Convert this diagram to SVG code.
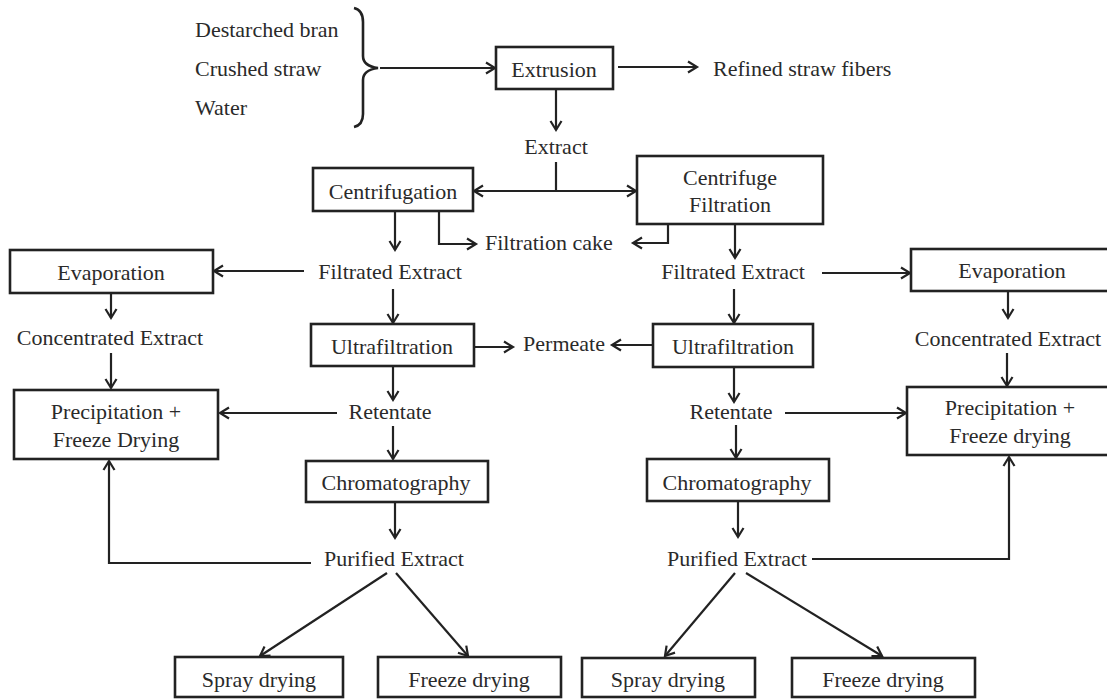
<svg xmlns="http://www.w3.org/2000/svg" width="1107" height="699" viewBox="0 0 1107 699">
<defs>
<marker id="ah" markerUnits="userSpaceOnUse" markerWidth="14" markerHeight="14" refX="11" refY="7" orient="auto">
<path d="M2,1.5 L11,7 L2,12.5" fill="none" stroke="#222" stroke-width="2.2" stroke-linejoin="miter"/>
</marker>
<style>
text{font-family:'Liberation Serif',serif;font-size:22px;fill:#2a2a2a}
.m{text-anchor:middle}
.box{fill:#fff;stroke:#222;stroke-width:2.6}
.c{fill:none;stroke:#222;stroke-width:2.2}
.a{marker-end:url(#ah)}
</style>
</defs>
<rect width="1107" height="699" fill="#fff"/>

<g id="connectors">
<path class="c a" d="M380,68 H495"/>
<path class="c a" d="M618,67 H697"/>
<path class="c a" d="M556,89 V130"/>
<path class="c" d="M556,162 V191"/>
<path class="c a" d="M556,191 H474"/>
<path class="c a" d="M556,191 H636"/>
<path class="c a" d="M395,211 V250"/>
<path class="c a" d="M439,211 V244 H476"/>
<path class="c a" d="M668,224 V243 H633"/>
<path class="c a" d="M735,224 V258"/>
<path class="c a" d="M304,271 H214"/>
<path class="c a" d="M822,273 H910"/>
<path class="c a" d="M393,289 V323"/>
<path class="c a" d="M734,289 V323"/>
<path class="c a" d="M111,293 V318"/>
<path class="c a" d="M1008,291 V318"/>
<path class="c a" d="M111,353 V388"/>
<path class="c a" d="M1007,353 V386"/>
<path class="c a" d="M474,347 H513"/>
<path class="c a" d="M653,345 H612"/>
<path class="c a" d="M393,366 V400"/>
<path class="c a" d="M734,367 V402"/>
<path class="c a" d="M337,413 H220"/>
<path class="c a" d="M785,413 H906"/>
<path class="c a" d="M393,426 V459"/>
<path class="c a" d="M736,425 V458"/>
<path class="c a" d="M395,502 V538"/>
<path class="c a" d="M738,501 V537"/>
<path class="c a" d="M311,563 H109 V461"/>
<path class="c a" d="M812,559 H1009 V457"/>
<path class="c a" d="M387,573 L260,656"/>
<path class="c a" d="M396,573 L468,656"/>
<path class="c a" d="M735,573 L665,656"/>
<path class="c a" d="M746,573 L882,656"/>
</g>

<g id="inputs">
<text x="195" y="37" font-family="Liberation Serif">Destarched bran</text>
<text x="195" y="76" font-family="Liberation Serif">Crushed straw</text>
<text x="195" y="115" font-family="Liberation Serif">Water</text>
<path d="M354,8 Q363,10 363,22 V56 Q363,66 378,68 Q363,70 363,80 V114 Q363,125 354,127" fill="none" stroke="#222" stroke-width="2.6"/>
</g>

<g id="extrusion"><rect class="box" x="496" y="47" width="117" height="42"/><text class="m" font-family="Liberation Serif" x="554" y="77">Extrusion</text></g>
<g id="refined"><text font-family="Liberation Serif" x="713" y="76">Refined straw fibers</text></g>
<g id="extract"><text class="m" font-family="Liberation Serif" x="556" y="154">Extract</text></g>
<g id="centrifugation"><rect class="box" x="313" y="168" width="160" height="43"/><text class="m" font-family="Liberation Serif" x="393" y="199">Centrifugation</text></g>
<g id="centrifuge-filtration"><rect class="box" x="637" y="156" width="186" height="68"/><text class="m" font-family="Liberation Serif" x="730" y="185">Centrifuge</text><text class="m" font-family="Liberation Serif" x="730" y="212">Filtration</text></g>
<g id="filtration-cake"><text font-family="Liberation Serif" x="485" y="250">Filtration cake</text></g>
<g id="filtrated-left"><text class="m" font-family="Liberation Serif" x="390" y="279">Filtrated Extract</text></g>
<g id="filtrated-right"><text class="m" font-family="Liberation Serif" x="733" y="279">Filtrated Extract</text></g>
<g id="evaporation-left"><rect class="box" x="10" y="250" width="203" height="43"/><text class="m" font-family="Liberation Serif" x="111" y="280">Evaporation</text></g>
<g id="evaporation-right"><rect class="box" x="911" y="249" width="204" height="42"/><text class="m" font-family="Liberation Serif" x="1012" y="278">Evaporation</text></g>
<g id="concentrated-left"><text class="m" font-family="Liberation Serif" x="110" y="345">Concentrated Extract</text></g>
<g id="concentrated-right"><text class="m" font-family="Liberation Serif" x="1008" y="346">Concentrated Extract</text></g>
<g id="ultrafiltration-left"><rect class="box" x="311" y="324" width="163" height="42"/><text class="m" font-family="Liberation Serif" x="392" y="354">Ultrafiltration</text></g>
<g id="ultrafiltration-right"><rect class="box" x="653" y="324" width="160" height="43"/><text class="m" font-family="Liberation Serif" x="733" y="354">Ultrafiltration</text></g>
<g id="permeate"><text class="m" font-family="Liberation Serif" x="564" y="351">Permeate</text></g>
<g id="precipitation-left"><rect class="box" x="14" y="390" width="204" height="69"/><text class="m" font-family="Liberation Serif" x="116" y="419">Precipitation +</text><text class="m" font-family="Liberation Serif" x="116" y="447">Freeze Drying</text></g>
<g id="precipitation-right"><rect class="box" x="907" y="387" width="208" height="68"/><text class="m" font-family="Liberation Serif" x="1010" y="415">Precipitation +</text><text class="m" font-family="Liberation Serif" x="1010" y="443">Freeze drying</text></g>
<g id="retentate-left"><text class="m" font-family="Liberation Serif" x="390" y="419">Retentate</text></g>
<g id="retentate-right"><text class="m" font-family="Liberation Serif" x="731" y="419">Retentate</text></g>
<g id="chromatography-left"><rect class="box" x="306" y="461" width="182" height="41"/><text class="m" font-family="Liberation Serif" x="396" y="490">Chromatography</text></g>
<g id="chromatography-right"><rect class="box" x="647" y="459" width="182" height="42"/><text class="m" font-family="Liberation Serif" x="737" y="490">Chromatography</text></g>
<g id="purified-left"><text class="m" font-family="Liberation Serif" x="394" y="566">Purified Extract</text></g>
<g id="purified-right"><text class="m" font-family="Liberation Serif" x="737" y="566">Purified Extract</text></g>
<g id="spray-left"><rect class="box" x="175" y="657" width="168" height="40"/><text class="m" font-family="Liberation Serif" x="259" y="687">Spray drying</text></g>
<g id="freeze-left"><rect class="box" x="378" y="657" width="183" height="40"/><text class="m" font-family="Liberation Serif" x="469" y="687">Freeze drying</text></g>
<g id="spray-right"><rect class="box" x="582" y="658" width="173" height="39"/><text class="m" font-family="Liberation Serif" x="668" y="687">Spray drying</text></g>
<g id="freeze-right"><rect class="box" x="792" y="658" width="183" height="39"/><text class="m" font-family="Liberation Serif" x="883" y="687">Freeze drying</text></g>
</svg>
